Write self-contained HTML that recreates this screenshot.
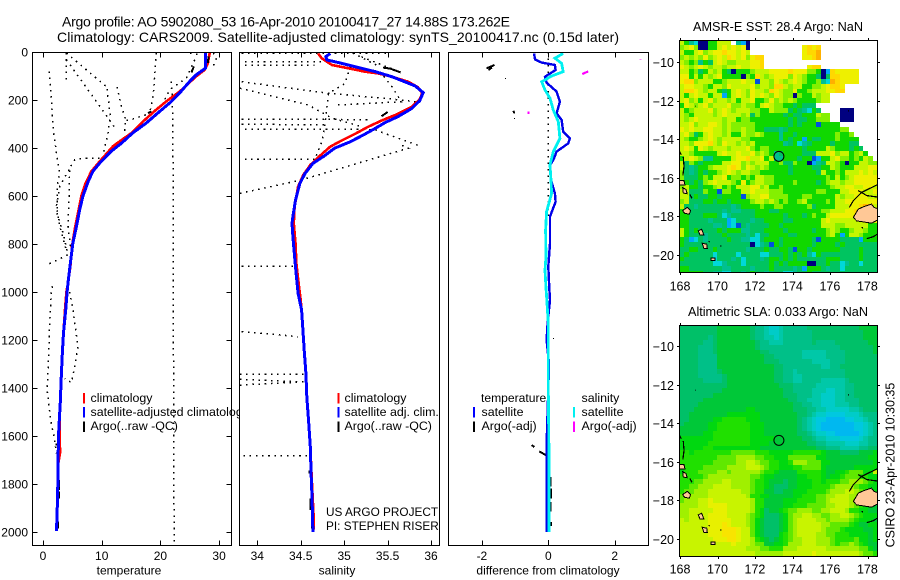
<!DOCTYPE html>
<html>
<head>
<meta charset="utf-8">
<title>Argo profile</title>
<style>
html,body{margin:0;padding:0;background:#fff;}
svg{display:block;font-family:"Liberation Sans",sans-serif;font-size:12px;fill:#000;}
text{fill:#000;}
</style>
</head>
<body>
<svg id="fig" width="900" height="580" viewBox="0 0 900 580" xmlns="http://www.w3.org/2000/svg">
<rect x="0" y="0" width="900" height="580" fill="#fff"/>
<text x="62" y="26.5" font-size="14" textLength="448" lengthAdjust="spacing">Argo profile: AO 5902080_53 16-Apr-2010 20100417_27 14.88S 173.262E</text>
<text x="57" y="42" font-size="14" textLength="562" lengthAdjust="spacing">Climatology: CARS2009. Satellite-adjusted climatology: synTS_20100417.nc (0.15d later)</text>
<g id="p1"></g>
<g id="p2"></g>
<g id="p3"></g>
<g id="m1"></g>
<g id="m2"></g>
<text x="129" y="574.5" text-anchor="middle">temperature</text>
<text x="337" y="574.5" text-anchor="middle">salinity</text>
<text x="548" y="574.5" text-anchor="middle">difference from climatology</text>
<text x="778" y="31" text-anchor="middle" font-size="12.7" textLength="170" lengthAdjust="spacing">AMSR-E SST: 28.4  Argo: NaN</text>
<text x="778" y="316" text-anchor="middle" font-size="12.7" textLength="180" lengthAdjust="spacing">Altimetric SLA: 0.033  Argo: NaN</text>
<text x="0" y="0" text-anchor="middle" transform="translate(894.5 465) rotate(-90)" font-size="12.5">CSIRO 23-Apr-2010 10:30:35</text>
</svg>
<script>
// ---- chart data (value, depth in m) ----
const depthTicks = [0,200,400,600,800,1000,1200,1400,1600,1800,2000];
const tempTicks = [0,10,20,30];
const salTicks = [34,34.5,35,35.5,36];
const salTickLabels = ['34','34.5','35','35.5','36'];
const diffTicks = [-2,0,2];
const lonTicks = [168,170,172,174,176,178];
const latTicks = [-10,-12,-14,-16,-18,-20];

const tempClim = [[28.4,4],[28.1,46],[27.56,74],[26.14,101],[23.3,164],[21,206],[19.3,240],[17.05,289],[15.06,338],[13.07,372],[11.93,393],[9.66,456],[8.24,497],[7.27,546],[6.53,601],[5.97,671],[5.4,740],[4.94,810],[4.66,893],[4.26,962],[3.98,1000],[3.75,1075],[3.47,1170],[3.24,1268],[3.01,1394],[2.84,1505],[2.9,1672],[2.55,1720],[2.5,1840],[2.35,1990]];
const tempSat = [[27.7,2],[27.7,67],[26.1,95],[25,122],[23.3,170],[21.6,212],[19.9,247],[17.6,296],[15.3,337],[13.4,379],[11.6,414],[9.7,462],[8.5,497],[7.7,539],[6.8,601],[6.25,657],[5.7,726],[5.1,796],[4.66,879],[4.26,962],[4.1,1000],[3.86,1075],[3.5,1170],[3.3,1250],[3.1,1360],[2.95,1460],[2.7,1570],[2.55,1700],[2.5,1840],[2.3,1995]];
const tempDotted = [
 [[1.08,81],[1.42,199],[1.82,338],[2.39,435],[2.84,504],[2.39,560],[2.39,671],[3.41,754],[4.26,844],[1.99,872],[.74,886]],
 [[1.59,976],[1.42,1006],[1.14,1130],[.85,1338],[.68,1400],[1.02,1478],[1.42,1547],[1.99,1617],[2.27,1672]],
 [[3.98,4],[11.08,150]],
 [[3.98,32],[9.66,226],[12.5,324]],
 [[3.98,4],[3.98,115]],
 [[12.61,146],[13.35,226],[14.09,282],[13.92,338]],
 [[10.91,154],[11.48,268],[11.08,338],[10.23,428]],
 [[14.2,285],[15.34,279],[17.61,261]],
 [[9.66,442],[6.82,442],[5.4,449],[4.55,483],[4.43,615],[4.26,726],[4.83,838]],
 [[4.43,490],[2.84,560],[2.27,643],[2.8,720],[3.9,820]],
 [[4.55,1000],[5.11,1075],[5.97,1228],[5.4,1311],[4.83,1378],[3.69,1360]],
 [[19.32,4],[19.03,101],[18.75,185],[18.18,254]],
 [[21.88,122],[22.05,199],[22.16,476],[22.16,1006],[22.27,1408],[22.33,2047]],
 [[25,4],[26.7,11]],
 [[29,4],[29.55,25],[29,60]],
 [[25.85,32],[24.43,108],[21.6,157],[20.45,212]]
];
const tempArgoBits = [
 [[25.7,60],[25.28,85]],[[28.2,18],[28.1,46]],[[17.9,254],[18.47,247]],
 [[2.16,1635],[2.56,1635]],[[2.73,1783],[2.73,1825]],[[2.7,1832],[2.7,1860]],[[2.56,1957],[2.56,1985]]
];

const salClim = [[34.7,6],[34.74,26],[34.86,54],[35.05,68],[35.24,82],[35.39,89],[35.55,103],[35.74,124],[35.85,147],[35.9,172],[35.87,197],[35.78,228],[35.59,262],[35.43,286],[35.28,311],[35.12,342],[34.97,369],[34.84,394],[34.72,433],[34.61,471],[34.53,512],[34.47,561],[34.43,644],[34.42,714],[34.44,797],[34.45,881],[34.48,978],[34.5,1033],[34.52,1131],[34.54,1242],[34.56,1339],[34.57,1436],[34.59,1533],[34.61,1644],[34.63,1800],[34.65,1950],[34.65,1990]];
const salSat = [[34.84,6],[34.79,19],[34.8,33],[34.97,47],[35.16,64],[35.36,82],[35.55,103],[35.7,124],[35.82,142],[35.91,169],[35.87,203],[35.78,235],[35.62,269],[35.47,294],[35.36,318],[35.22,346],[35.07,374],[34.89,401],[34.76,436],[34.64,464],[34.55,506],[34.49,547],[34.44,617],[34.41,686],[34.4,714],[34.41,769],[34.43,853],[34.45,936],[34.47,1006],[34.51,1075],[34.52,1131],[34.54,1242],[34.56,1339],[34.57,1436],[34.59,1533],[34.61,1644],[34.62,1756],[34.63,1853],[34.64,1999]];
const salDotted = [
 [[33.82,4],[35.5,4]],
 [[33.86,40],[34.78,40]],
 [[33.86,54],[34.66,54]],
 [[33.82,124],[34.82,172],[35.47,193],[35.82,207]],
 [[33.8,151],[34.59,221],[34.86,276],[35.2,311]],
 [[33.82,281],[34.89,281],[35.28,283]],
 [[33.82,301],[34.82,304]],
 [[33.86,321],[35.05,321],[35.36,325],[35.89,394]],
 [[34.66,447],[33.8,447]],
 [[33.8,589],[34.51,533],[35.74,401],[35.66,388]],
 [[35.07,61],[35.01,131],[34.82,172],[34.79,269],[34.75,367],[34.66,450]],
 [[34.93,221],[35.66,207],[35.55,144],[35.43,89]],
 [[33.82,892],[34.43,892]],
 [[33.82,1165],[34.47,1186]],
 [[33.8,1342],[34.53,1342]],
 [[33.8,1364],[34.51,1374]],
 [[33.8,1388],[34.55,1374]],
 [[33.84,1683],[34.6,1683]],
 [[35.1,4],[35.4,60]],[[35.2,20],[35.55,70]]
];
const salArgoBits = [
 [[35.45,65],[35.53,69],[35.65,85]],[[35.43,268],[35.5,250]],
 [[34.61,1860],[34.61,1908]],[[34.63,1957],[34.63,1985]],[[34.6,1743],[34.6,1757]]
];

const diffTempSat = [[-.43,6],[-.4,31],[-.2,44],[.2,54],[.22,75],[-.1,103],[-.05,128],[.25,165],[.35,207],[.25,256],[.4,283],[.45,332],[.65,360],[.6,381],[.25,415],[.15,450],[.05,471],[.08,533],[.2,589],[.22,624],[.05,686],[.05,797],[0,894],[.03,985],[.05,1033],[-.02,1131],[-.05,1200],[.02,1297],[0,1408],[-.04,1575],[-.05,1686],[-.05,1999]];
const diffSalSat = [[.45,6],[.2,26],[.4,47],[.45,82],[.1,100],[-.2,124],[-.1,158],[.05,193],[.15,242],[.3,290],[.35,360],[.15,415],[.05,471],[.08,533],[.1,589],[-.05,665],[-.08,742],[-.07,853],[-.1,908],[-.07,985],[-.05,1019],[0,1131],[0,1408],[.02,1686],[.02,1999]];
const diffZero = [[0,0],[0,700]];
const diffArgoTemp = [[[-1.86,68],[-1.62,54]],[[-1.8,75],[-1.7,64]],[[-1.05,245],[-1.02,256]],[[-.5,1638],[-.42,1646]],[[-.27,1664],[-.07,1680]],[[.06,1770],[.06,1810]],[[.08,1818],[.08,1860]],[[.06,1875],[.06,1915]],[[.08,1958],[.08,1975]]];
const diffArgoSpecks = [[-1.3,110],[-1.02,275],[.15,1193],[0,2032]];
const diffArgoSal = [[[1.02,92],[1.2,81]],[[-.6,248],[-.6,258]],[[2.78,30],[2.78,32]]];

// SST grid, one string per latitude row, one letter per 0.25 degree cell ('.' = no data)
const sstRows = [
"yetcnneeyyy.tan",
"lyzlnneeyzyzyzn...........zozo",
"yeeyzlyzzozzyzy...........zoor",
"lylylzlyzyozyzlzoo........zzor",
"yleltegyzyllyyyzzo",
"zylyzylyylyyzyyzzo.........zoo",
"yyelgeylyegneeelyyyzzzzozzzllenaozzzzz",
"zzeyeylyzeeeenleoylyzzzlzyleegngoozzzz",
"zoolyyyeelyyyzyybyylzylyzyleeltcrozzzz",
"yzzyyleyylzyyyyzlyylooylyyeellyzooz",
"yoozylyyegeyzylzyylozyllzeelyyyzzoo",
"yeyzyyeyyaeyzylzyzylzyllnleeylyy",
"yzlyeyzlyylyeyyzeelzlylyleeeelyy",
"ezylyzlyyyzllylleyzylleegeggg",
"yelyyyzlyzylyyylleeylllgegtceg....nnn",
"yleyyyylyzyyylygleeeeegeggeeeyll..nnn",
"ylyzyyyyylyyelleeeeeeeegeggeelll..nnn",
"yyzlyyzzylyllllleeeeeeegegeeebeeee",
"zyzyyzzyylyllylleegggtgeeeeeeeeeeell",
"yzlgeyzyylyeeyllyleeeteegeeeeeeeeleel",
"yleelyzylyyyylleeeeeetegeeaeggeeeleeee",
"yylzzzoylzyylylyeeeeeetgectgeeeegeeegg",
"yzyezylyyylyyyzlelleeeeeeegeeeeyleeegeg",
"yyleeeeeyzyyzyyzlyletgeeeegggyyyzlyyelye",
"eyzyltteeeeyzzoyyzeytteeegeebaeeyzlleleyl",
"yglegeeeeyyzzlylyyyeelggleenatgyyleneeyyll",
"ygtgeelyyyzozlzylyleeeegeeeeggeeyleeeyyyzz",
"lgtgegeelyzylyylleeeeeegeeeeegyeeleyyyzyzy",
"lgggeleyyzelleleyylleeeeeeeeeeeleyelyzzzzz",
"legeglyzyyylezelyylleeeeleeeegelyylyyzzzzz",
"lyeegeelyeleyyyzzlyeeleeeeeeeeeelyyzzyyzzy",
"yygggleeblleeyyzyyyllleeeeeeelleeeyyzzzyyz",
"yygeggeegeeeeblyyzzlllleeelleeeeeylyyzzzyy",
"lygggeegeegeeeelyylyleleelyeeeeleyyzzzzzzz",
"yggtgggggggtgeeeeleelleeeeelgeeeeyyyzzorry",
"eegggggggtgttgggeeeggeeeeeeeeellyyyzzoooor",
"eegggeeegctgggggeeeeeegeeegeleeyzzzzzzoooz",
"eeggggtgggacgggtggeeeeggeeeeeeyzyyyyyyyzzz",
"eegggggttgacbgtggggeegeeeeeeeeyyyllyyyyyee",
"yegeggggegeeettgggeeeegeeeeegeelyleelyylee",
"yegggtgggeggggtgcggeeeeggeeeeeelyeaeyyleee",
"egacgtggggeggttccgeeegeeeeeegbeeeeggggaeee",
"eggggggggggggggnctgbegeeeeeegeeeegeggggggg",
"ggeegggeggggggtgggeggeegbeegeeeeeeggggeggg",
"gegggggcggggcggggccgggegegetceggggggggeggg",
"eggggggcgggtgcgggtgeegegeggggggeeeggggeggg",
"gggggggcctgggcgggggegegeeeennggeggctggcggg",
"eegggggggttggggtgggeggggtgaeeegtggcggggggg",
"eeeeeggttccggtgeggtgggcctggegggggggggggggg"
];
// SLA grid, one string per latitude row, '0' = lowest anomaly to 'd' = highest
const slaRows = [
"555555556666666544322344444555555555556666",
"555555556666666544322344444455555555555666",
"555555456666666544332344444455555555555666",
"555554456666666654433344444454444555555566",
"555544456666666654444444444444444455555556",
"555544456666666665544444443333344445555556",
"555544446666666666554444443333344445555555",
"555544446666666666555444444433334445555555",
"555544446666666666665544444444334455555555",
"555544445666666666665544344444444445555555",
"555544444566666666665544334444444445555555",
"555554444566666666665544334444333334555555",
"555555555566666666666555444443333334455555",
"555555555666666666666655444433322334455555",
"555555566666666666666655544433222334455555",
"555556666666666666666665544333222334445555",
"555566666666666666666666554433222333445555",
"555666666666667766666666555443322222334555",
"556666666677777776666666655432211112223444",
"556666677888887776666666654321100001122344",
"566666778888888777666666654321000000011234",
"666666778888888777666666654321000000011234",
"666667788888888777666666655432211000001234",
"777777788888888777776666665543322211112344",
"777777888888888777766666666554433332223344",
"777778877777777776666666666665544433334455",
"887888888889999988877777888888766655556667",
"888888889999aaaa99887779999997766666666677",
"888888899999aabba9988778aaa999776666666667",
"7888899999aaaabbba988777889999766666677777",
"78889999aa9aaaaaa988766668888876677899977",
"888889aaaaaaaaa998776666677888767789998877",
"88899aaaabbaaaa988766656677788788899aaa987",
"8899aaabbbbaaaa988765556677788889aaaa98877",
"899aaabbbbbbbaa98866556677788889aaabba9887",
"99aaaabbbbbbbba8877666667788899aabbbaa9887",
"9aaabbcbbbbbbbba886666777888899abbbba98877",
"aaaabbccccbbbbba886666778889999aabbba98776",
"aabbbbbcccbbbbba875667899aaa99aabbba887766",
"aabbbbccccbbbba987555679aabbaa99aabba98777",
"babbbbcccccbbba976555679abbbbaa9aaaa987776",
"bbbbbbcccdcbbba976555679abbbbbaa9999876677",
"bbbbbbcccdddcbb976555679abbbbba99987777667",
"bbbbbbcccdddcbb976555789abbbbaa99888777767",
"bbbbbbbcccddcbba87656789aabbbaaa9888897767",
"bbbbbbbbbbbcbbba9966778aaabbbaaa9899a98766",
"bbbbbbbbbbbbbbaaa99888aaabbbbbbaaaaaaa9976",
"bbbbbbbbbbbbbbbbaaaaaabbbbbbcbbbbbbbbba998",
"bbbbbbbbbbbbbbbbbbbbbbbbbcccbbbbbbbbbbbaaa"
];
const sstColors = {n:'#000080',b:'#0050e0',a:'#00a8f8',c:'#00d8d8',t:'#00c090',g:'#00c460',e:'#10d800',l:'#84f000',y:'#c4f600',z:'#eef000',o:'#ffd800',r:'#ffb000'};
const slaColors = {'0':'#00b8f0','1':'#00c8e0','2':'#00ccc8','3':'#00c8a8','4':'#00c088','5':'#00c068','6':'#00c838','7':'#00d810','8':'#20e000','9':'#60e800',a:'#a0f000',b:'#c8f400',c:'#e8f000',d:'#f8e400'};
const islands = [
 [[177.23,-18.05],[177.5,-17.62],[177.77,-17.5],[178.2,-17.36],[178.34,-17.53],[178.6,-17.62],[178.6,-18.14],[178.21,-18.35],[177.77,-18.28],[177.41,-18.23]],
 [[167.95,-16.14],[168.2,-16.14],[168.25,-16.37],[167.95,-16.37]],
 [[168.13,-16.5],[168.3,-16.6],[168.37,-16.82],[168.16,-16.78]],
 [[168.12,-17.7],[168.37,-17.53],[168.55,-17.7],[168.48,-17.88],[168.25,-17.84]],
 [[168.96,-18.75],[169.14,-18.66],[169.26,-18.97],[169.05,-18.97]],
 [[169.17,-19.39],[169.41,-19.44],[169.44,-19.67],[169.26,-19.67]],
 [[169.65,-20.15],[169.85,-20.15],[169.85,-20.28],[169.65,-20.28]]
];
const coastLines = [
 [[177.02,-17.53],[177.23,-17.18],[177.68,-16.75],[178.6,-16.31]],
 [[177.5,-16.66],[177.95,-16.92],[178.6,-17]],
 [[177.95,-19.15],[178.3,-19.05],[178.6,-18.87]],
 [[168.16,-14.92],[168.2,-15.4],[168.14,-15.88]],
 [[167.95,-14.6],[168.05,-14.8]],
 [[168.5,-16.85],[168.62,-17.05]],
 [[177.7,-18.55],[177.72,-18.62]],
 [[170.12,-19.53],[170.2,-19.53]],
 [[169.53,-19.28],[169.56,-19.34]],
 [[168.8,-12.25],[168.83,-12.27]],
 [[176.95,-12.55],[177,-12.5]]
];
const profileLon = [173.262];
const profileLat = [-14.88];

// ---- axes ----
const xTemp = v => 43 + v * 5.87;
const xSal = v => 257.3 + (v - 34) * 86.85;
const xDiff = v => 548.3 + v * 33.2;
const yDepth = d => 52 + d * 0.24;
const NS = 'http://www.w3.org/2000/svg';
const legendSize = 12.4;
const dotPattern = '1.6 4.6';

function mk(parent, tag, attrs) {
  const el = document.createElementNS(NS, tag);
  for (const k in attrs) el.setAttribute(k, attrs[k]);
  parent.appendChild(el);
  return el;
}
function seg(parent, a, b, c, d, name) {
  const el = mk(parent, 'line', {x1:a, y1:b, x2:c, y2:d, stroke:'#000', 'stroke-width':1, 'shape-rendering':'crispEdges'});
  
  
  return el;
}
function label(parent, x, y, s, anchor, name, size) {
  const el = mk(parent, 'text', {x:x, y:y, 'text-anchor':anchor});
  if (size) el.setAttribute('font-size', size);
  el.textContent = s;
  
  
  return el;
}
function curve(parent, pts, xf, color, width, name, dash) {
  const el = mk(parent, 'polyline', {points: pts.map(p => xf(p[0]).toFixed(1) + ',' + yDepth(p[1]).toFixed(1)).join(' '), fill:'none', stroke:color, 'stroke-width':width, 'shape-rendering':'crispEdges'});
  if (dash) el.setAttribute('stroke-dasharray', dash);
  
  
  return el;
}
function speck(parent, p, xf, name) {
  const el = mk(parent, 'rect', {x:Math.round(xf(p[0])), y:Math.round(yDepth(p[1])), width:1, height:1, fill:'#000'});
  
  
}
function bar(parent, x, y, color, name) {
  const el = mk(parent, 'rect', {x:x, y:y, width:2, height:10.5, fill:color});
  
  
}
function panelBack(parent, x0, x1) {
  const el = mk(parent, 'rect', {x:x0, y:52.5, width:x1 - x0, height:493, fill:'#fff'});
  
  
}
function panelFrame(parent, x0, x1, ticks, labels, xf) {
  const el = mk(parent, 'rect', {x:x0, y:52.5, width:x1 - x0, height:493, fill:'none', stroke:'#000', 'stroke-width':1, 'shape-rendering':'crispEdges'});
  
  
  ticks.forEach((t, i) => {
    const x = Math.round(xf(t)) + 0.5;
    seg(parent, x, 52.5, x, 57.5, 'x-tick-top');
    seg(parent, x, 545.5, x, 540.5, 'x-tick-bottom');
    label(parent, xf(t), 560, labels[i], 'middle', 'x-tick-label');
  });
}

// ---- temperature panel ----
const p1 = document.getElementById('p1');
panelBack(p1, 32.5, 231.5);
tempDotted.forEach(s => curve(p1, s, xTemp, '#000', 1.5, 'argo-raw-temperature-dots', dotPattern));
curve(p1, tempClim, xTemp, '#f00', 2.6, 'temperature-climatology-line');
tempArgoBits.forEach(s => curve(p1, s, xTemp, '#000', 2, 'argo-temperature-segment'));
curve(p1, tempSat, xTemp, '#0000ff', 3, 'temperature-satellite-line');
panelFrame(p1, 32.5, 231.5, tempTicks, tempTicks.map(String), xTemp);
depthTicks.forEach(d => {
  const y = Math.round(yDepth(d)) + 0.5;
  seg(p1, 32.5, y, 37.5, y, 'y-tick-left');
  seg(p1, 231.5, y, 226.5, y, 'y-tick-right');
  label(p1, 28, y + 4, String(d), 'end', 'depth-tick-label');
});
bar(p1, 83, 393, '#f00', 'legend-climatology-swatch');
bar(p1, 83, 407, '#00f', 'legend-satellite-swatch');
bar(p1, 83, 421.5, '#000', 'legend-argo-swatch');
label(p1, 90.5, 402, 'climatology', 'start', 'legend-climatology-label', legendSize);
label(p1, 90.5, 416, 'satellite-adjusted climatology', 'start', 'legend-satellite-label', legendSize);
label(p1, 90.5, 430, 'Argo(..raw -QC)', 'start', 'legend-argo-label', legendSize);

// ---- salinity panel ----
const p2 = document.getElementById('p2');
panelBack(p2, 239.5, 439.5);
salDotted.forEach(s => curve(p2, s, xSal, '#000', 1.5, 'argo-raw-salinity-dots', dotPattern));
curve(p2, salClim, xSal, '#f00', 2.6, 'salinity-climatology-line');
salArgoBits.forEach(s => curve(p2, s, xSal, '#000', 2, 'argo-salinity-segment'));
curve(p2, salSat, xSal, '#0000ff', 3, 'salinity-satellite-line');
panelFrame(p2, 239.5, 439.5, salTicks, salTickLabels, xSal);
bar(p2, 337.5, 393, '#f00', 'legend-climatology-swatch');
bar(p2, 337.5, 407, '#00f', 'legend-satellite-swatch');
bar(p2, 337.5, 421.5, '#000', 'legend-argo-swatch');
label(p2, 344.5, 402, 'climatology', 'start', 'legend-climatology-label', legendSize);
label(p2, 344.5, 416, 'satellite adj. clim.', 'start', 'legend-satellite-label', legendSize);
label(p2, 344.5, 430, 'Argo(..raw -QC)', 'start', 'legend-argo-label', legendSize);
label(p2, 326, 516, 'US ARGO PROJECT', 'start', 'project-credit', 11.8);
label(p2, 326, 530, 'PI: STEPHEN RISER', 'start', 'pi-credit', 11.8);

// ---- difference panel ----
const p3 = document.getElementById('p3');
panelBack(p3, 448.5, 648.5);
curve(p3, diffZero, xDiff, '#000', 1.2, 'zero-reference-dots', '1.5 5');
diffArgoTemp.forEach(s => curve(p3, s, xDiff, '#000', 2, 'argo-temperature-difference'));
diffArgoSpecks.forEach(p => speck(p3, p, xDiff, 'argo-difference-speck'));
diffArgoSal.forEach(s => curve(p3, s, xDiff, '#ff00ff', 2.2, 'argo-salinity-difference'));
curve(p3, diffTempSat, xDiff, '#0000e8', 2.4, 'temperature-difference-line');
curve(p3, diffSalSat, xDiff, '#00f0f0', 2.8, 'salinity-difference-line');
panelFrame(p3, 448.5, 648.5, diffTicks, diffTicks.map(String), xDiff);
label(p3, 481, 402, 'temperature', 'start', 'legend-temperature-heading', 12.1);
label(p3, 481.5, 416, 'satellite', 'start', 'legend-temp-satellite-label', legendSize);
label(p3, 481.5, 430, 'Argo(-adj)', 'start', 'legend-temp-argo-label', legendSize);
label(p3, 581.5, 402, 'salinity', 'start', 'legend-salinity-heading', legendSize);
label(p3, 581.5, 416, 'satellite', 'start', 'legend-sal-satellite-label', legendSize);
label(p3, 581.5, 430, 'Argo(-adj)', 'start', 'legend-sal-argo-label', legendSize);
bar(p3, 473, 407, '#00f', 'legend-temp-satellite-swatch');
bar(p3, 473, 421.5, '#000', 'legend-temp-argo-swatch');
bar(p3, 573, 407, '#00f0f0', 'legend-sal-satellite-swatch');
bar(p3, 573, 421.5, '#ff00ff', 'legend-sal-argo-swatch');

// ---- maps ----
function drawMap(id, rows, colors, fill, top, bottom, lat10, labelY) {
  const g = document.getElementById(id);
  const left = 679.5, right = 877.5;
  const xLon = v => 680.3 + (v - 168) * 18.74;
  const yLat = v => lat10 + (-10 - v) * 19.27;
  const cw = (right - left) / 42, ch = 4.8;
  const clip = mk(g, 'clipPath', {id: id + '-clip'});
  mk(clip, 'rect', {x:left, y:top, width:right - left, height:bottom - top});
  const body = mk(g, 'g', {'clip-path': 'url(#' + id + '-clip)'});
  
  
  rows.forEach((row, r) => {
    for (let c = 0; c < 42; c++) {
      const ch0 = row[c] || fill;
      if (ch0 === '.') continue;
      const x0 = Math.round(left + c * cw), x1 = Math.round(left + (c + 1) * cw);
      const y0 = Math.round(top + r * ch), y1 = Math.round(top + (r + 1) * ch);
      const cell = mk(body, 'rect', {x:x0, y:y0, width:x1 - x0, height:y1 - y0, fill:colors[ch0], 'shape-rendering':'crispEdges'});
      
      
    }
  });
  islands.forEach(poly => {
    const el = mk(body, 'polygon', {points: poly.map(p => xLon(p[0]).toFixed(1) + ',' + yLat(p[1]).toFixed(1)).join(' '), fill:'#ffc896', stroke:'#000', 'stroke-width':1, 'shape-rendering':'crispEdges'});
    
    
  });
  coastLines.forEach(line => {
    const el = mk(body, 'polyline', {points: line.map(p => xLon(p[0]).toFixed(1) + ',' + yLat(p[1]).toFixed(1)).join(' '), fill:'none', stroke:'#000', 'stroke-width':1.2, 'shape-rendering':'crispEdges'});
    
    
  });
  const marker = mk(body, 'circle', {cx:xLon(profileLon[0]), cy:yLat(profileLat[0]), r:5, fill:'none', stroke:'#000', 'stroke-width':1});
  
  
  const frame = mk(g, 'rect', {x:left, y:top, width:right - left, height:bottom - top, fill:'none', stroke:'#000', 'stroke-width':1, 'shape-rendering':'crispEdges'});
  
  
  lonTicks.forEach(v => {
    const x = Math.round(xLon(v)) + 0.5;
    seg(g, x, top, x, top - 2.5, 'map-x-tick-top');
    seg(g, x, bottom, x, bottom + 2.5, 'map-x-tick-bottom');
    label(g, xLon(v) - 0.3, labelY, String(v), 'middle', 'map-longitude-label', 12.5);
  });
  latTicks.forEach(v => {
    const y = Math.round(yLat(v)) + 0.5;
    seg(g, left, y, left - 2.5, y, 'map-y-tick-left');
    seg(g, right, y, right + 2.5, y, 'map-y-tick-right');
    label(g, 674, y + 4.5, '\u2212' + Math.abs(v), 'end', 'map-latitude-label', 12.5);
  });
}
drawMap('m1', sstRows, sstColors, '.', 40.5, 272.5, 62.3, 290.5);
drawMap('m2', slaRows, slaColors, 'b', 325.5, 556.5, 346.3, 573.5);
</script>
</body>
</html>
